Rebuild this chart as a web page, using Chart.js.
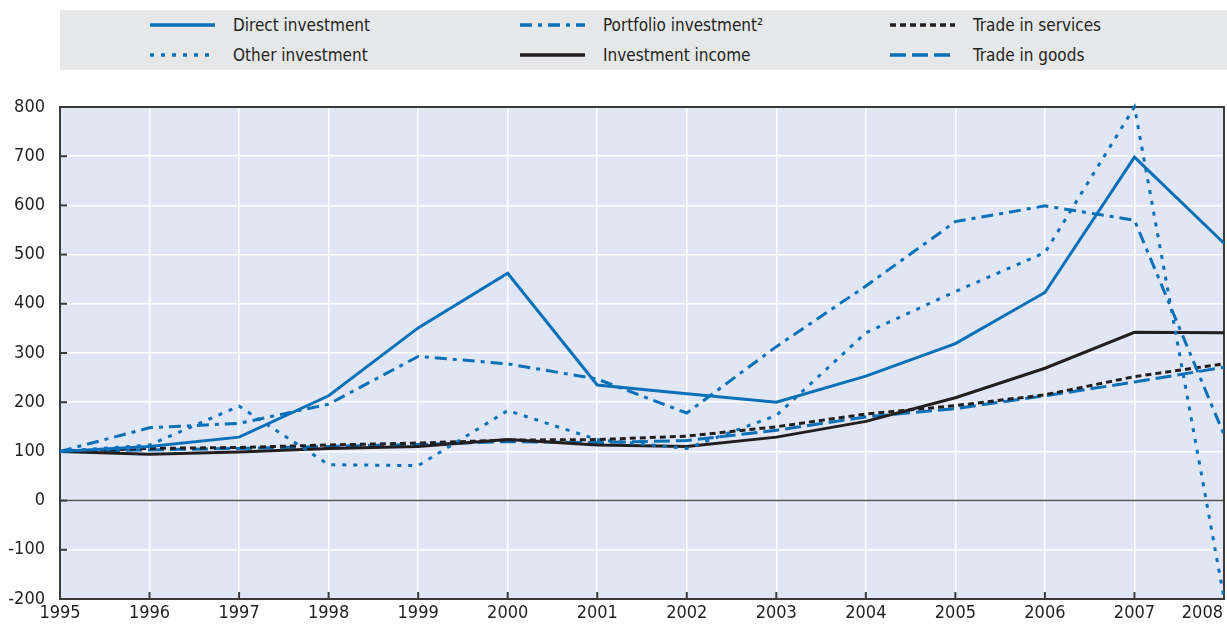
<!DOCTYPE html>
<html>
<head>
<meta charset="utf-8">
<script src="https://cdn.jsdelivr.net/npm/chart.js@4.4.1/dist/chart.umd.min.js"></script>
<style>
  html, body { margin: 0; padding: 0; background: #fff; }
  body { width: 1227px; height: 629px; position: relative; overflow: hidden;
         font-family: "Liberation Sans Narrow", "DejaVu Sans Condensed", "Roboto", sans-serif; }
  #legend { position: absolute; left: 60px; top: 10px; width: 1167px; height: 60px; background: #e6e7e9; }
  .item { position: absolute; height: 20px; display: flex; align-items: center; font-size: 17px; color: #231f20; white-space: nowrap; }
  .item svg { margin-right: 18px; }
  #wrap { position: absolute; left: 0; top: 0; width: 1227px; height: 629px; }
</style>
</head>
<body>
<div id="wrap"><canvas id="chart" width="1227" height="629"></canvas></div>
<div id="legend"></div>
<script>
/* data */
const years = [1995, 1996, 1997, 1998, 1999, 2000, 2001, 2002, 2003, 2004, 2005, 2006, 2007, 2008];
const yTicks = [-200, -100, 0, 100, 200, 300, 400, 500, 600, 700, 800];

const directInvestment = [100, 110, 129, 213, 351, 462, 235, 217, 200, 253, 319, 423, 698, 523];
const portfolioInvestment = [100, 148, 157, 196, 293, 278, 247, 178, 313, 436, 567, 599, 570, 134];
const otherInvestment = [100, 113, 192, 73, 71, 183, 124, 106, 173, 341, 425, 504, 800, -198];
const investmentIncome = [100, 94, 99, 106, 110, 124, 113, 110, 129, 161, 209, 269, 342, 341];
const tradeServices = [100, 106, 108, 113, 117, 123, 124, 131, 150, 176, 193, 215, 252, 278];
const tradeGoods = [100, 103, 106, 110, 114, 120, 118, 122, 143, 170, 187, 213, 241, 271];

const blue = '#0a70b8';
const black = '#231f20';

const series = [
    { label: 'Direct investment', data: directInvestment, color: blue, dash: [], col: 0, row: 0 },
    { label: 'Portfolio investment\u00b2', data: portfolioInvestment, color: blue, dash: [12, 6, 4, 6], col: 1, row: 0 },
    { label: 'Trade in services', data: tradeServices, color: black, dash: [6, 4], col: 2, row: 0 },
    { label: 'Other investment', data: otherInvestment, color: blue, dash: [4, 7], col: 0, row: 1 },
    { label: 'Investment income', data: investmentIncome, color: black, dash: [], col: 1, row: 1 },
    { label: 'Trade in goods', data: tradeGoods, color: blue, dash: [16, 6], col: 2, row: 1 }
];

/* legend */
const colX = [90, 460, 830];
const rowY = [15, 45];
const legend = document.getElementById('legend');
series.forEach(function (s) {
    var div = document.createElement('div');
    div.className = 'item';
    div.style.left = colX[s.col] + 'px';
    div.style.top = (rowY[s.row] - 10) + 'px';
    div.innerHTML = '<svg width="65" height="6"><line x1="0" y1="3" x2="65" y2="3" stroke="' + s.color +
        '" stroke-width="3.5" stroke-dasharray="' + (s.dash.length ? s.dash.join(' ') : 'none') + '"/></svg>';
    var span = document.createElement('span');
    span.textContent = s.label;
    div.appendChild(span);
    legend.appendChild(div);
});

/* frame, background, inner ticks and x labels */
const framePlugin = {
    id: 'frame',
    beforeDraw: function (chart) {
        const a = chart.chartArea, ctx = chart.ctx;
        ctx.save();
        ctx.fillStyle = '#e1e6f4';
        ctx.fillRect(a.left, a.top, a.right - a.left, a.bottom - a.top);
        ctx.restore();
    },
    beforeDatasetsDraw: function (chart) {
        const a = chart.chartArea, ctx = chart.ctx;
        const x = chart.scales.x, y = chart.scales.y;
        ctx.save();
        ctx.strokeStyle = '#555';
        ctx.lineWidth = 1.5;
        const y0 = y.getPixelForValue(0);
        ctx.beginPath();
        ctx.moveTo(a.left, y0);
        ctx.lineTo(a.right, y0);
        ctx.stroke();
        ctx.strokeStyle = '#3a3a3a';
        ctx.lineWidth = 2;
        yTicks.forEach(function (v) {
            const py = y.getPixelForValue(v);
            ctx.beginPath();
            ctx.moveTo(a.left, py);
            ctx.lineTo(a.left + 7, py);
            ctx.stroke();
        });
        years.forEach(function (v) {
            const px = x.getPixelForValue(v);
            ctx.beginPath();
            ctx.moveTo(px, a.bottom);
            ctx.lineTo(px, a.bottom - 7);
            ctx.stroke();
        });
        ctx.strokeRect(a.left, a.top, a.right - a.left, a.bottom - a.top);
        ctx.restore();
    },
    afterDraw: function (chart) {
        const a = chart.chartArea, ctx = chart.ctx;
        const x = chart.scales.x;
        ctx.save();
        ctx.font = '18px "Liberation Sans Narrow", "DejaVu Sans Condensed", sans-serif';
        ctx.fillStyle = black;
        ctx.textBaseline = 'top';
        years.forEach(function (v) {
            const px = x.getPixelForValue(v);
            const w = ctx.measureText(String(v)).width;
            let left = px - w / 2;
            if (left + w > chart.width - 4) left = chart.width - 4 - w;
            ctx.fillText(String(v), left, a.bottom + 5);
        });
        ctx.restore();
    }
};

new Chart(document.getElementById('chart'), {
    type: 'line',
    data: {
        datasets: series.map(function (s) {
            return {
                label: s.label,
                data: s.data.map(function (v, i) { return { x: years[i], y: v }; }),
                borderColor: s.color,
                borderWidth: 3,
                borderDash: s.dash,
                pointRadius: 0,
                tension: 0,
                fill: false
            };
        })
    },
    options: {
        responsive: false,
        animation: false,
        clip: false,
        layout: { padding: { top: 107, right: 3, bottom: 30, left: 0 } },
        plugins: { legend: { display: false }, tooltip: { enabled: false } },
        scales: {
            x: {
                type: 'linear',
                min: 1995,
                max: 2008,
                ticks: { display: false, stepSize: 1 },
                grid: { color: '#ffffff', lineWidth: 1.5, drawTicks: false },
                border: { display: false }
            },
            y: {
                min: -200,
                max: 800,
                afterFit: function (scale) { scale.width = 60; },
                ticks: {
                    stepSize: 100,
                    padding: 15,
                    color: black,
                    font: { family: '"Liberation Sans Narrow", "DejaVu Sans Condensed", sans-serif', size: 18 }
                },
                grid: { color: '#ffffff', lineWidth: 1.5, drawTicks: false },
                border: { display: false }
            }
        }
    },
    plugins: [framePlugin]
});
</script>
</body>
</html>
